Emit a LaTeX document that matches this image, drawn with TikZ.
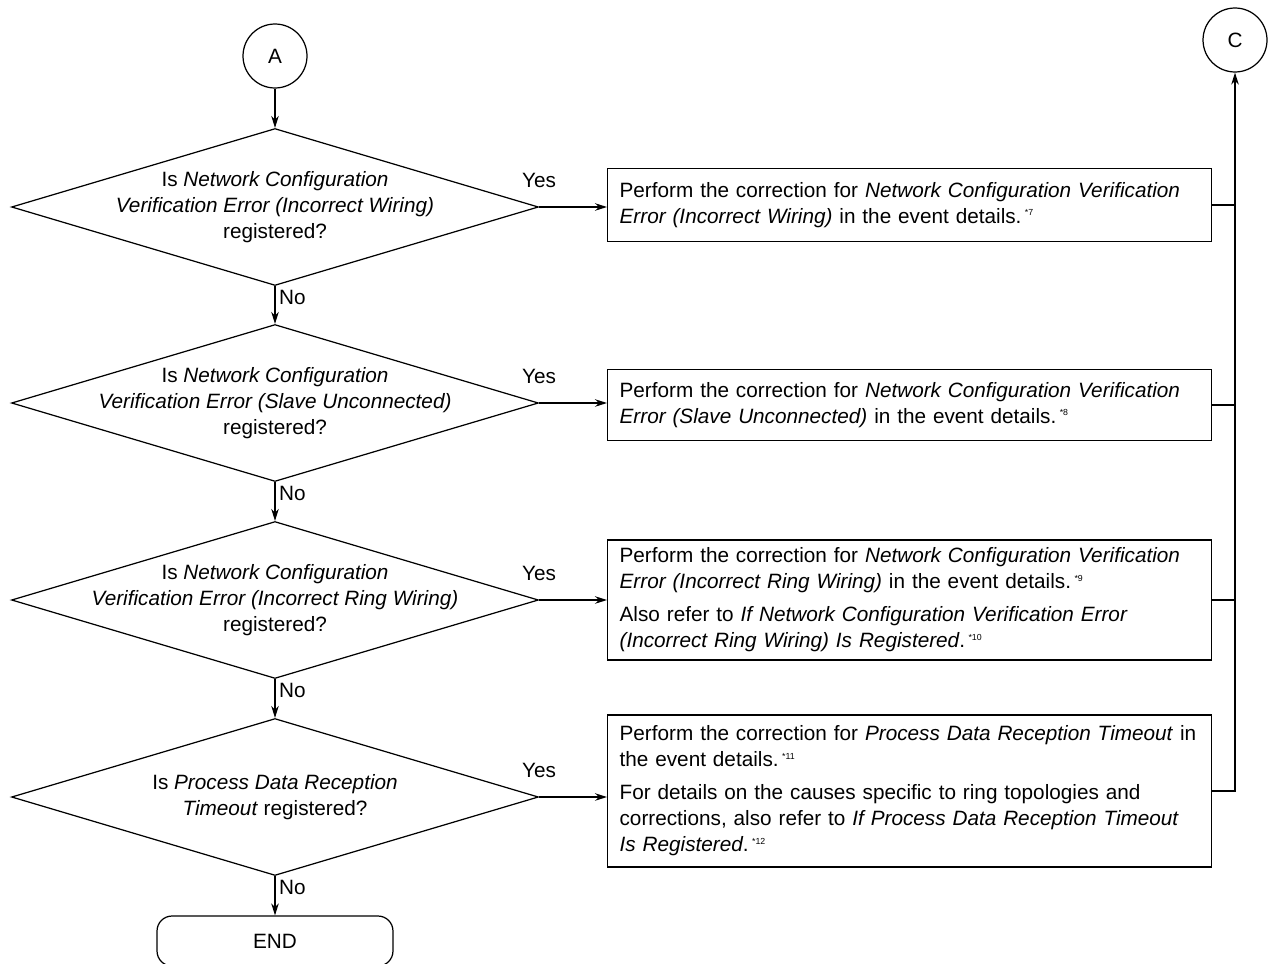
\documentclass[tikz,border=0pt]{standalone}
\usepackage{fontspec}
\setmainfont{Liberation Sans}
\usepackage{tikz}
\usetikzlibrary{positioning,arrows.meta,shapes.geometric}

\newcommand{\fn}[1]{\,\textsuperscript{\tiny *#1}}

\begin{document}
\begin{tikzpicture}[
  x=0.02cm, y=-0.02cm,
  font=\fontsize{11.8}{14.8}\selectfont,
  line width=0.7pt,
  decision/.style={draw, diamond, minimum width=10.54cm, minimum height=3.14cm, inner sep=0pt},
  qtext/.style={align=center, inner sep=0pt},
  action/.style={draw, anchor=west, text width=11.6cm, align=left, inner xsep=0.24cm, inner ysep=4pt},
  conn/.style={draw, circle, minimum size=1.28cm, inner sep=0pt},
  term/.style={draw, rounded corners=0.3cm, minimum width=4.72cm, minimum height=1.0cm},
  arrow/.style={-{Stealth[length=2.4mm, width=1.5mm]}},
  lbl/.style={inner sep=2pt}
]
  \useasboundingbox (0,0) rectangle (1270,963);
  \clip (0,0) rectangle (1270,963);

  % Connectors
  \node[conn] (a) at (275,56) {A};
  \node[conn] (c) at (1235,40) {C};

  % Decisions
  \node[decision] (q1) at (275,207) {};
  \node[qtext] (q1t) at (q1) {Is \textit{Network Configuration}\\ \textit{Verification Error (Incorrect Wiring)}\\ registered?};
  \node[decision] (q2) at (275,403) {};
  \node[qtext] (q2t) at (q2) {Is \textit{Network Configuration}\\ \textit{Verification Error (Slave Unconnected)}\\ registered?};
  \node[decision] (q3) at (275,600) {};
  \node[qtext] (q3t) at (q3) {Is \textit{Network Configuration}\\ \textit{Verification Error (Incorrect Ring Wiring)}\\ registered?};
  \node[decision] (q4) at (275,797) {};
  \node[qtext] (q4t) at (q4) {Is \textit{Process Data Reception}\\ \textit{Timeout} registered?};

  \node[term] (end) at (275,941) {END};

  % Corrections
  \node[action, minimum height=1.46cm] (b1) at (607,205) {Perform the correction for \textit{Network Configuration Verification}\\ \textit{Error (Incorrect Wiring)} in the event details.\fn{7}};
  \node[action, minimum height=1.42cm] (b2) at (607,405) {Perform the correction for \textit{Network Configuration Verification}\\ \textit{Error (Slave Unconnected)} in the event details.\fn{8}};
  \node[action, minimum height=2.4cm] (b3) at (607,600) {Perform the correction for \textit{Network Configuration Verification}\\ \textit{Error (Incorrect Ring Wiring)} in the event details.\fn{9}\\[4pt]
    Also refer to \textit{If Network Configuration Verification Error}\\ \textit{(Incorrect Ring Wiring) Is Registered}.\fn{10}};
  \node[action, minimum height=3.04cm] (b4) at (607,791) {Perform the correction for \textit{Process Data Reception Timeout} in\\ the event details.\fn{11}\\[4pt]
    For details on the causes specific to ring topologies and\\ corrections, also refer to \textit{If Process Data Reception Timeout}\\ \textit{Is Registered}.\fn{12}};

  % Main line
  \draw[arrow] (a) -- (q1);
  \draw[arrow] (q1) -- node[lbl, right, pos=0.3] {No} (q2);
  \draw[arrow] (q2) -- node[lbl, right, pos=0.3] {No} (q3);
  \draw[arrow] (q3) -- node[lbl, right, pos=0.3] {No} (q4);
  \draw[arrow] (q4) -- node[lbl, right, pos=0.3] {No} (end);

  % Yes branches
  \foreach \i in {1,2,3,4} {
    \draw[arrow] (q\i.east) -- node[lbl, at start, above=0.3cm] {Yes} (q\i.east -| b\i.west);
  }

  % Return to C
  \draw (b1.east) -- (b1.east -| c.south);
  \draw (b2.east) -- (b2.east -| c.south);
  \draw (b3.east) -- (b3.east -| c.south);
  \draw[arrow] (b4.east) -| (c.south);
\end{tikzpicture}
\end{document}
